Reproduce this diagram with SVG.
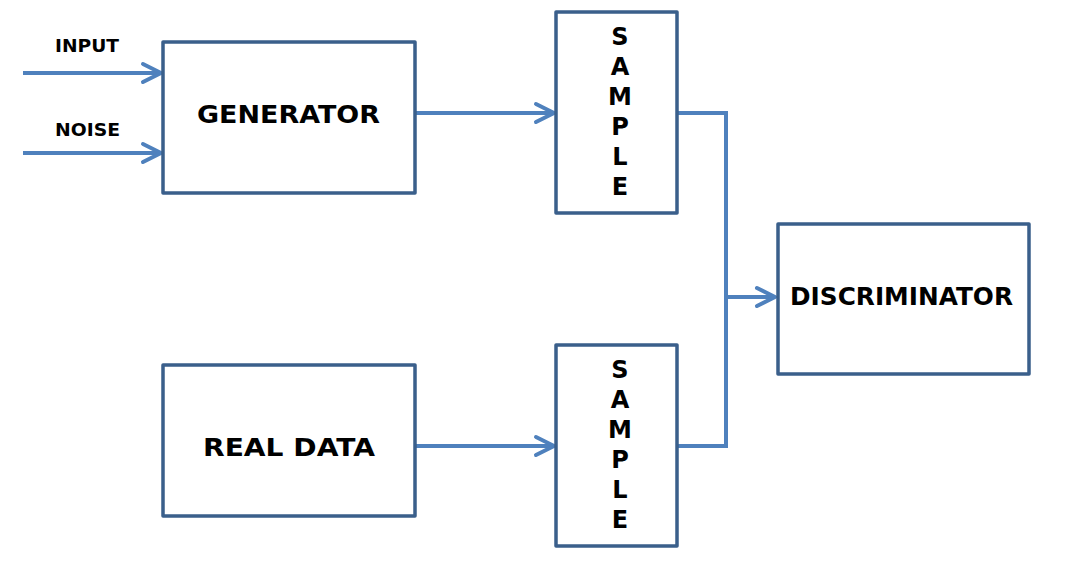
<svg xmlns="http://www.w3.org/2000/svg" width="1070" height="563" viewBox="0 0 1070 563">
<style>
.box{fill:#fff;stroke:#3a5f8b;stroke-width:3.5;stroke-linejoin:round}
.conn{fill:none;stroke:#4f81bd;stroke-width:4;stroke-linejoin:miter}
.head{fill:none;stroke:#4f81bd;stroke-width:4;stroke-linecap:round;stroke-linejoin:round}
text{font-family:"DejaVu Sans","Liberation Sans",sans-serif;font-weight:bold;fill:#000}
.big{font-size:24px}
.small{font-size:17px}
.letter{font-size:24px;text-anchor:middle}
</style>
<rect width="1070" height="563" fill="#fff"/>
<g id="connectors">
<line class="conn" x1="23" y1="73" x2="160" y2="73"/>
<polyline class="head" points="143,64 161,73 143,82"/>
<line class="conn" x1="23" y1="153" x2="160" y2="153"/>
<polyline class="head" points="143,144 161,153 143,162"/>
<line class="conn" x1="415" y1="113" x2="553" y2="113"/>
<polyline class="head" points="536,104 554,113 536,122"/>
<line class="conn" x1="415" y1="446" x2="553" y2="446"/>
<polyline class="head" points="536,437 554,446 536,455"/>
<polyline class="conn" points="677,113 726,113 726,446 677,446"/>
<line class="conn" x1="726" y1="297" x2="774" y2="297"/>
<polyline class="head" points="757,288 775,297 757,306"/>
</g>
<g id="input-label"><text class="small" x="55" y="52" textLength="64" lengthAdjust="spacingAndGlyphs">INPUT</text></g>
<g id="noise-label"><text class="small" x="55" y="136" textLength="65" lengthAdjust="spacingAndGlyphs">NOISE</text></g>
<g id="generator">
<rect class="box" x="163" y="42" width="252" height="151"/>
<text class="big" x="197" y="123" textLength="183" lengthAdjust="spacingAndGlyphs">GENERATOR</text>
</g>
<g id="real-data">
<rect class="box" x="163" y="365" width="252" height="151"/>
<text class="big" x="203" y="456" textLength="172" lengthAdjust="spacingAndGlyphs">REAL DATA</text>
</g>
<g id="sample1">
<rect class="box" x="556" y="12" width="121" height="201"/>
<text class="letter" x="620" y="45">S</text>
<text class="letter" x="620" y="75">A</text>
<text class="letter" x="620" y="105">M</text>
<text class="letter" x="620" y="135">P</text>
<text class="letter" x="620" y="165">L</text>
<text class="letter" x="620" y="195">E</text>
</g>
<g id="sample2">
<rect class="box" x="556" y="345" width="121" height="201"/>
<text class="letter" x="620" y="378">S</text>
<text class="letter" x="620" y="408">A</text>
<text class="letter" x="620" y="438">M</text>
<text class="letter" x="620" y="468">P</text>
<text class="letter" x="620" y="498">L</text>
<text class="letter" x="620" y="528">E</text>
</g>
<g id="discriminator">
<rect class="box" x="778" y="224" width="251" height="150"/>
<text class="big" x="790" y="305" textLength="223" lengthAdjust="spacingAndGlyphs">DISCRIMINATOR</text>
</g>
</svg>
